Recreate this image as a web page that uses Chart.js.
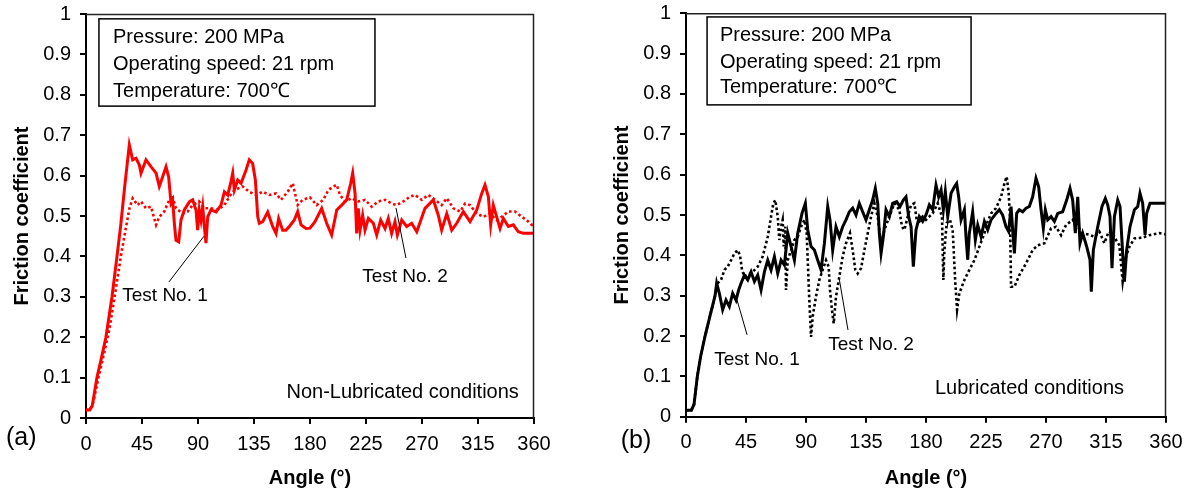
<!DOCTYPE html>
<html>
<head>
<meta charset="utf-8">
<script src="https://cdn.jsdelivr.net/npm/chart.js@4.4.1/dist/chart.umd.min.js"></script>
<style>
  html, body { margin: 0; padding: 0; background: #fff; }
  #wrap { position: relative; width: 1185px; height: 494px; overflow: hidden; }
  canvas { position: absolute; top: 0; }
</style>
</head>
<body>
<div id="wrap">
  <canvas id="cA" width="560" height="494" style="left:0px"></canvas>
  <canvas id="cB" width="585" height="494" style="left:600px"></canvas>
</div>
<script>
// ---------- DATA ----------
const xTicks = [0, 45, 90, 135, 180, 225, 270, 315, 360];
const yTicks = [0, 0.1, 0.2, 0.3, 0.4, 0.5, 0.6, 0.7, 0.8, 0.9, 1];

// (a) Non-lubricated, Test No. 1 (solid)
const aTest1Angle = [0,3,5,8.8,12.5,16,20.9,24.9,28,31,34.8,37.5,40.2,42.9,44.2,48.2,52.2,56.3,58.9,61.6,64.3,66.4,68.3,69.6,71,72.3,74.5,76.3,79,83,85.7,88.4,89.7,91,92.4,93.8,95.1,96.4,97.8,100.4,104.5,108.5,111.2,113.9,116.5,117.9,119.2,121.9,124.6,128.6,131.2,133.9,136.1,138,139.3,142,146,150,152.7,154.8,158,160.7,163.4,167.4,170.1,172.8,176.8,180,184,189.4,193.4,197.4,201.5,205.5,209.5,212.7,214.3,216.2,217.5,218.8,220.2,222.3,224.2,226.9,230.9,233.6,236.8,240.3,242.9,245.6,248.3,250.2,253.7,257.7,261.7,265.8,272.4,279.1,283.1,285.8,289.9,293.9,297.9,303.2,308.6,314,318,320.6,323.3,325.2,327.3,330,332.7,335.4,339.4,343.4,347.4,351.4,360];
const aTest1Value = [0.02,0.02,0.03,0.1,0.15,0.2,0.3,0.4,0.48,0.57,0.676,0.639,0.643,0.626,0.606,0.639,0.622,0.606,0.573,0.597,0.622,0.597,0.532,0.54,0.482,0.44,0.436,0.49,0.515,0.535,0.54,0.515,0.465,0.515,0.49,0.523,0.474,0.433,0.498,0.515,0.51,0.527,0.56,0.552,0.585,0.606,0.564,0.589,0.581,0.614,0.639,0.63,0.589,0.498,0.482,0.486,0.51,0.474,0.457,0.494,0.465,0.465,0.474,0.49,0.511,0.478,0.469,0.47,0.486,0.519,0.482,0.453,0.515,0.527,0.54,0.581,0.606,0.556,0.457,0.519,0.465,0.502,0.465,0.494,0.482,0.453,0.49,0.469,0.494,0.457,0.486,0.453,0.49,0.474,0.482,0.461,0.519,0.54,0.502,0.465,0.506,0.465,0.482,0.511,0.486,0.515,0.556,0.577,0.548,0.478,0.527,0.498,0.469,0.494,0.474,0.478,0.461,0.457,0.457];

// (a) Non-lubricated, Test No. 2 (dotted)
const aTest2Angle = [0,3,6,10,14.5,18.8,23,28,32,35,37.5,41.5,44.2,48.2,52.2,56.3,58.9,62.9,65.6,69.1,72.3,77.7,81.7,85.7,91,95.1,100.4,105.8,111.2,115.2,119.2,125.9,131.2,136.6,142,147.3,152.7,156.7,162.1,166.1,170.1,174.1,180,185.4,190.7,194.7,198.7,201.5,204.1,208.1,213.5,218.8,224.2,229.6,234.9,240.3,245.6,249.7,255,260.4,264.4,269.8,275.1,280.5,285.8,289.9,295.2,300.6,304.6,308.6,314,319.3,324.6,330,334,339.4,344.7,350.1,354.1,358.1,360];
const aTest2Value = [0.02,0.02,0.04,0.1,0.16,0.22,0.3,0.4,0.47,0.52,0.544,0.527,0.536,0.519,0.523,0.478,0.498,0.511,0.531,0.552,0.519,0.506,0.511,0.527,0.536,0.519,0.519,0.515,0.527,0.548,0.564,0.573,0.56,0.552,0.56,0.552,0.556,0.54,0.56,0.581,0.527,0.54,0.546,0.527,0.54,0.564,0.573,0.577,0.552,0.536,0.544,0.536,0.54,0.523,0.536,0.54,0.531,0.527,0.536,0.548,0.552,0.54,0.552,0.54,0.527,0.544,0.519,0.511,0.531,0.527,0.506,0.498,0.506,0.49,0.498,0.511,0.511,0.498,0.49,0.478,0.478];

// (b) Lubricated, Test No. 1 (solid)
const bTest1Angle = [0,4,6,8.5,11,14.3,18,21.8,23,25,27.5,30,32.5,35,37.5,39.5,41.3,43.8,46.3,48.8,51.3,53.8,56.3,58.8,61.3,63.8,66.3,68.8,71.3,73.8,76.3,78.8,81.3,83.8,87,89.5,91.3,93.8,96.3,98.8,101.3,103.8,106.3,108,110,112.5,115,117.5,120,122.5,125,127.5,130,132.5,135,137.5,140,142,143.8,145,146.3,148,150,152.5,155,158,160.5,163,165,167,168.8,170.5,172.5,175,177.5,180,182.5,185,187.5,189.5,191.3,193,194.5,196.3,198.8,201.3,203,204.5,206.3,208.8,210,211.3,212.5,215,217,218.8,221.3,223.8,226.3,228.8,232.5,235,237.5,240,242,243.8,245,246.3,248,250,252.5,255,257.5,260,262.5,264.5,266.3,268,269.5,271.3,273.8,276.3,278.8,282.5,285.5,288,290,292,293.8,295.5,297.5,300.5,303,304,305.5,308.8,312,314.5,316.3,318,319.5,321.3,323.8,325.5,327.5,328.8,330.5,333,336.3,338.8,340.5,342.5,344.3,345.5,348,352.5,360];
const bTest1Value = [0.016,0.016,0.03,0.1,0.15,0.2,0.25,0.3,0.331,0.306,0.265,0.289,0.273,0.306,0.289,0.314,0.331,0.351,0.339,0.359,0.335,0.351,0.314,0.359,0.388,0.364,0.397,0.355,0.388,0.376,0.455,0.422,0.388,0.455,0.504,0.529,0.463,0.422,0.413,0.388,0.364,0.43,0.521,0.488,0.413,0.471,0.446,0.471,0.488,0.508,0.517,0.5,0.529,0.508,0.488,0.513,0.537,0.566,0.529,0.455,0.405,0.446,0.513,0.496,0.529,0.533,0.521,0.537,0.545,0.496,0.471,0.372,0.463,0.496,0.484,0.5,0.525,0.513,0.574,0.545,0.562,0.513,0.558,0.496,0.554,0.57,0.578,0.545,0.488,0.513,0.446,0.389,0.455,0.508,0.438,0.475,0.446,0.484,0.463,0.488,0.504,0.513,0.5,0.471,0.459,0.521,0.463,0.405,0.504,0.513,0.508,0.517,0.521,0.545,0.591,0.57,0.513,0.467,0.513,0.488,0.496,0.484,0.504,0.508,0.537,0.566,0.537,0.455,0.545,0.43,0.455,0.422,0.389,0.31,0.413,0.471,0.521,0.541,0.525,0.496,0.368,0.496,0.537,0.521,0.405,0.335,0.413,0.471,0.513,0.521,0.554,0.529,0.451,0.504,0.529,0.529,0.529];

// (b) Lubricated, Test No. 2 (dotted)
const bTest2Angle = [0,4,6,8.5,11,14.3,18,21.8,23.5,26.3,28.8,31.3,33.8,36.3,38.8,40.5,42,43.8,46.3,50,53.8,57.5,61.3,63.8,65.5,67,68.8,70,71.3,72.5,73.3,74.5,75,76.3,78.8,81.3,83.8,86.3,88.8,90.5,91.3,92.5,93.8,95,97.5,100,102.5,105,107,108,109.5,110.8,112.5,115,117.5,120,123,125,127,128.8,131.3,133.8,136.3,138.8,141.3,143.8,146.3,148.8,152.5,156.3,160,162,163.8,166.3,168.8,171.3,173,175,177.5,180,185,188.8,192,193,193.8,195.5,198,200,202,203.3,205,208.8,212.5,216.3,220,223.8,226.3,228.8,232.5,236.3,238.8,240.5,242,243,243.8,246.3,250,255,260,263.8,268.8,273.8,277.5,281.3,285,290,293.8,297.5,302.5,306.3,310,313.8,317,320,322.5,325,327.5,330,332.5,336.3,342.5,347.5,355,360];
const bTest2Value = [0.016,0.016,0.03,0.1,0.15,0.2,0.25,0.3,0.33,0.339,0.364,0.372,0.388,0.405,0.413,0.4,0.364,0.347,0.351,0.359,0.372,0.397,0.446,0.496,0.529,0.537,0.496,0.438,0.471,0.488,0.422,0.471,0.314,0.388,0.413,0.438,0.446,0.471,0.488,0.455,0.388,0.289,0.198,0.248,0.298,0.339,0.364,0.388,0.372,0.314,0.264,0.231,0.298,0.347,0.397,0.43,0.455,0.413,0.364,0.355,0.368,0.413,0.455,0.496,0.529,0.496,0.43,0.463,0.496,0.529,0.513,0.471,0.463,0.496,0.525,0.529,0.488,0.484,0.496,0.488,0.504,0.529,0.496,0.339,0.413,0.48,0.488,0.463,0.331,0.265,0.306,0.339,0.364,0.388,0.421,0.455,0.484,0.504,0.517,0.545,0.578,0.595,0.554,0.496,0.322,0.322,0.351,0.38,0.413,0.425,0.43,0.467,0.471,0.45,0.475,0.488,0.471,0.455,0.451,0.446,0.459,0.43,0.459,0.455,0.438,0.425,0.335,0.397,0.421,0.442,0.444,0.45,0.455,0.452];

// texts
const xTitle = 'Angle (°)';
const yTitle = 'Friction coefficient';
const infoLines = ['Pressure: 200 MPa', 'Operating speed: 21 rpm', 'Temperature: 700\u2103'];
const testLabels = ['Test No. 1', 'Test No. 2'];
const conditionA = 'Non-Lubricated conditions';
const conditionB = 'Lubricated conditions';

// ---------- RENDERING ----------
const FONT = "'Liberation Sans', Arial, Helvetica, sans-serif";
Chart.defaults.font.family = FONT;
Chart.defaults.color = '#000';

function pts(ax, vy) { return ax.map((a, i) => ({ x: a, y: vy[i] })); }

const annotPlugin = {
  id: 'annot',
  afterDraw(chart) {
    const o = chart.options.plugins.annot;
    if (!o) return;
    const { ctx, chartArea: a, scales: { x, y } } = chart;
    const px = v => x.getPixelForValue(v), py = v => y.getPixelForValue(v);
    ctx.save();
    // top & right frame
    ctx.strokeStyle = '#222'; ctx.lineWidth = 1.5;
    ctx.beginPath();
    ctx.moveTo(a.left, a.top + 0.5); ctx.lineTo(a.right - 0.5, a.top + 0.5); ctx.lineTo(a.right - 0.5, a.bottom);
    ctx.stroke();
    // info box
    const b = o.box;
    ctx.lineWidth = 1.5; ctx.strokeStyle = '#000';
    ctx.strokeRect(px(b.x0), py(b.y0), px(b.x1) - px(b.x0), py(b.y1) - py(b.y0));
    ctx.fillStyle = '#000';
    ctx.font = b.font + ' ' + FONT;
    ctx.textAlign = 'left'; ctx.textBaseline = 'middle';
    infoLines.forEach((t, i) => ctx.fillText(t, px(b.tx), py(b.ly[i])));
    // leaders
    ctx.lineWidth = 1; ctx.strokeStyle = '#000';
    o.leaders.forEach(l => {
      ctx.beginPath(); ctx.moveTo(px(l[0]), py(l[1])); ctx.lineTo(px(l[2]), py(l[3])); ctx.stroke();
    });
    // labels
    o.labels.forEach(l => {
      ctx.font = l.font + ' ' + FONT;
      ctx.textAlign = l.align; ctx.textBaseline = 'middle';
      ctx.fillText(l.text, px(l.x), py(l.y));
    });
    ctx.restore();
  }
};

function makeChart(id, series, colour, annot, padTop, padRight, xAxisH) {
  return new Chart(document.getElementById(id), {
    type: 'line',
    data: {
      datasets: [
        { data: pts(series[0], series[1]), borderColor: colour, borderWidth: 3, pointRadius: 0, tension: 0, fill: false, order: 1 },
        { data: pts(series[2], series[3]), borderColor: colour, borderWidth: 2.6, borderDash: [2.6, 2.6], pointRadius: 0, tension: 0, fill: false, order: 2 }
      ]
    },
    options: {
      responsive: false, animation: false, devicePixelRatio: 1,
      layout: { padding: { top: padTop, right: padRight, bottom: 0, left: 0 } },
      plugins: { legend: { display: false }, tooltip: { enabled: false }, annot: annot },
      scales: {
        x: {
          type: 'linear', min: 0, max: 360,
          afterBuildTicks: s => { s.ticks = xTicks.map(v => ({ value: v })); },
          ticks: { autoSkip: false, maxRotation: 0, padding: 8, font: { size: 20 }, color: '#000' },
          grid: { drawOnChartArea: false, drawTicks: true, tickLength: 6, color: '#000', lineWidth: 2 },
          border: { color: '#000', width: 2 },
          title: { display: true, text: xTitle, font: { size: 20, weight: 'bold' }, color: '#000', padding: { top: 0, bottom: 4 } },
          afterFit: s => { s.height = xAxisH; s.paddingLeft = 0; s.paddingRight = 0; }
        },
        y: {
          type: 'linear', min: 0, max: 1,
          afterBuildTicks: s => { s.ticks = yTicks.map(v => ({ value: v })); },
          ticks: { autoSkip: false, padding: 9, font: { size: 20 }, color: '#000', callback: v => String(Number(v.toFixed(1))) },
          grid: { drawOnChartArea: false, drawTicks: true, tickLength: 6, color: '#000', lineWidth: 2 },
          border: { color: '#000', width: 2 },
          title: { display: true, text: yTitle, font: { size: 20, weight: 'bold' }, color: '#000', padding: { top: 10, bottom: 0 } },
          afterFit: s => { s.width = 86; s.paddingTop = 0; s.paddingBottom = 0; }
        }
      }
    },
    plugins: [annotPlugin]
  });
}

makeChart('cA', [aTest1Angle, aTest1Value, aTest2Angle, aTest2Value], '#ff0000', {
  box: { x0: 10.4, y0: 0.988, x1: 232.2, y1: 0.772, tx: 21.7, ly: [0.941, 0.874, 0.809], font: '20px' },
  leaders: [[66.7, 0.337, 94.8, 0.45], [257.1, 0.396, 249.1, 0.52]],
  labels: [
    { text: testLabels[0], x: 63.5, y: 0.302, align: 'center', font: '19px' },
    { text: testLabels[1], x: 256.3, y: 0.349, align: 'center', font: '19px' },
    { text: conditionA, x: 347.8, y: 0.064, align: 'right', font: '20px' },
    { text: '(a)', x: -52, y: -0.05, align: 'center', font: '25px' }
  ]
}, 14, 26, 76);

makeChart('cB', [bTest1Angle, bTest1Value, bTest2Angle, bTest2Value], '#000000', {
  box: { x0: 15.8, y0: 0.991, x1: 213.8, y1: 0.773, tx: 25.5, ly: [0.944, 0.877, 0.815], font: '20px' },
  leaders: [[45.8, 0.203, 38.3, 0.289], [121.5, 0.215, 114.8, 0.344]],
  labels: [
    { text: testLabels[0], x: 53.3, y: 0.141, align: 'center', font: '19px' },
    { text: testLabels[1], x: 138.8, y: 0.178, align: 'center', font: '19px' },
    { text: conditionB, x: 328.5, y: 0.071, align: 'right', font: '20px' },
    { text: '(b)', x: -37.5, y: -0.06, align: 'center', font: '25px' }
  ]
}, 13.3, 19, 77.3);
</script>
</body>
</html>
